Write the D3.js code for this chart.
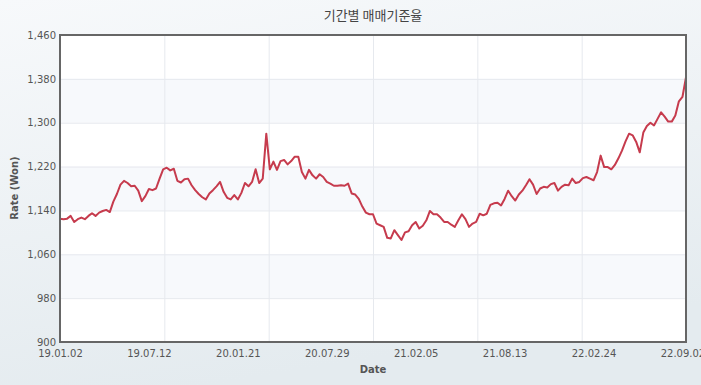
<!DOCTYPE html>
<html>
<head>
<meta charset="utf-8">
<script src="https://cdn.jsdelivr.net/npm/d3@7"></script>
<style>
  body { margin: 0; overflow: hidden; }
  svg { display: block; }
</style>
</head>
<body>
<svg id="chart" width="701" height="385"></svg>
<script>
// weekly-ish samples of the won rate
var rates = [
  1125,1124,1125,1130,1119,1124,1127,1124,1130,1135,
  1130,1136,1139,1141,1137,1156,1170,1187,1194,1190,
  1184,1185,1176,1157,1166,1179,1177,1180,1198,1215,
  1218,1213,1216,1194,1191,1197,1198,1186,1177,1170,
  1164,1160,1171,1177,1184,1192,1174,1163,1160,1168,
  1160,1172,1190,1184,1192,1215,1190,1198,1280,1215,
  1229,1214,1230,1232,1224,1230,1238,1238,1210,1198,
  1214,1204,1198,1206,1201,1192,1189,1185,1185,1186,
  1185,1189,1171,1169,1161,1147,1136,1133,1133,1116,
  1113,1110,1090,1089,1104,1095,1086,1100,1102,1113,
  1119,1107,1112,1122,1139,1133,1133,1127,1119,1119,
  1114,1110,1122,1133,1124,1110,1116,1119,
  1134,1131,1134,1150,1153,1154,1149,1161,1176,1166,
  1158,1169,1176,1186,1197,1187,1170,1180,1183,1182,
  1188,1190,1176,1183,1187,1186,1198,1190,1192,1199,
  1201,1198,1195,1210,1240,1219,1219,1215,1223,1235,
  1249,1266,1280,1277,1265,1246,1282,1294,1300,1295,
  1307,1319,1311,1302,1302,1313,1339,1347,1383
];
var date_lables = ["19.01.02","19.07.12","20.01.21","20.07.29","21.02.05","21.08.13","22.02.24","22.09.02"];
var lable_step = 25;
var y_ticks = [900, 980, 1060, 1140, 1220, 1300, 1380, 1460];
var title_lable = "기간별 매매기준율";
var x_lable = "Date";
var y_lable = "Rate (Won)";

var svg = d3.select("#chart"),
    margin = { top: 35, right: 15, bottom: 43, left: 60 },
    width = svg.attr("width") - margin.left - margin.right,
    height = svg.attr("height") - margin.top - margin.bottom;

var defs = svg.append("defs");
var grad = defs.append("linearGradient")
    .attr("id", "bg")
    .attr("x1", "0").attr("y1", "0")
    .attr("x2", "0.3").attr("y2", "1");
grad.append("stop").attr("offset", "0%").attr("stop-color", "#f7f9fb");
grad.append("stop").attr("offset", "100%").attr("stop-color", "#e4ebef");

svg.append("rect")
    .attr("width", svg.attr("width"))
    .attr("height", svg.attr("height"))
    .attr("fill", "url(#bg)");

var g = svg.append("g").attr("transform", "translate(" + margin.left + "," + margin.top + ")");

var x = d3.scaleLinear().domain([0, rates.length - 1]).range([0, width]);
var y = d3.scaleLinear().domain([y_ticks[0], y_ticks[y_ticks.length - 1]]).range([height, 0]);

// plot background + alternate bands
g.append("rect")
    .attr("width", width)
    .attr("height", height)
    .attr("fill", "#fff");

g.selectAll(".band")
    .data(y_ticks.slice(0, -1).filter(function(d, i) { return i % 2 == 1; }))
    .enter().append("rect")
    .attr("class", "band")
    .attr("x", 0)
    .attr("width", width)
    .attr("y", function(d) { return y(d + 80); })
    .attr("height", function(d) { return y(d) - y(d + 80); })
    .attr("fill", "#f7f9fc");

// grid
g.append("g")
    .attr("class", "grid-y")
    .call(d3.axisLeft(y).tickValues(y_ticks).tickSize(-width).tickFormat(""))
    .call(function(s) {
        s.select(".domain").remove();
        s.selectAll("line").attr("stroke", "#e6e9ee");
    });

var grid_idx = d3.range(0, 7).map(function(k) { return (rates.length - 1) * k / 6; });
g.append("g")
    .attr("class", "grid-x")
    .attr("transform", "translate(0," + height + ")")
    .call(d3.axisBottom(x).tickValues(grid_idx).tickSize(-height).tickFormat(""))
    .call(function(s) {
        s.select(".domain").remove();
        s.selectAll("line").attr("stroke", "#e6e9ee");
    });

// line
var line = d3.line()
    .x(function(d, i) { return x(i); })
    .y(function(d) { return y(d); });

g.append("path")
    .datum(rates)
    .attr("fill", "none")
    .attr("stroke", "#c63b4d")
    .attr("stroke-width", 2)
    .attr("stroke-linejoin", "round")
    .attr("d", line);

// frame
g.append("rect")
    .attr("width", width)
    .attr("height", height)
    .attr("fill", "none")
    .attr("stroke", "#666")
    .attr("stroke-width", 2);

// y axis labels
g.append("g")
    .attr("class", "axis axis--y")
    .call(d3.axisLeft(y).tickValues(y_ticks).tickSize(0).tickPadding(4).tickFormat(d3.format(",")))
    .call(function(s) {
        s.select(".domain").remove();
        s.selectAll("text")
            .attr("fill", "#555")
            .style("font", "10px 'DejaVu Sans'");
    });

// x axis labels
var lable_idx = date_lables.map(function(d, i) { return i * lable_step; });
g.append("g")
    .attr("class", "axis axis--x")
    .attr("transform", "translate(0," + height + ")")
    .call(d3.axisBottom(x).tickValues(lable_idx).tickSize(0).tickPadding(8)
        .tickFormat(function(d, i) { return date_lables[i]; }))
    .call(function(s) {
        s.select(".domain").remove();
        s.selectAll("text")
            .attr("fill", "#555")
            .style("font", "10px 'DejaVu Sans'");
    });

g.append("text")
    .attr("x", width / 2)
    .attr("y", height + 31)
    .attr("text-anchor", "middle")
    .attr("fill", "#555")
    .style("font", "bold 10px 'DejaVu Sans'")
    .text(x_lable);

g.append("text")
    .attr("transform", "translate(" + (-42) + "," + (188 - margin.top) + ") rotate(-90)")
    .attr("text-anchor", "middle")
    .attr("fill", "#555")
    .style("font", "bold 10px 'DejaVu Sans'")
    .text(y_lable);

svg.append("text")
    .attr("x", margin.left + width / 2)
    .attr("y", 20)
    .attr("text-anchor", "middle")
    .attr("fill", "#444")
    .style("font", "13px 'Noto Sans CJK KR'")
    .text(title_lable);
</script>
</body>
</html>
